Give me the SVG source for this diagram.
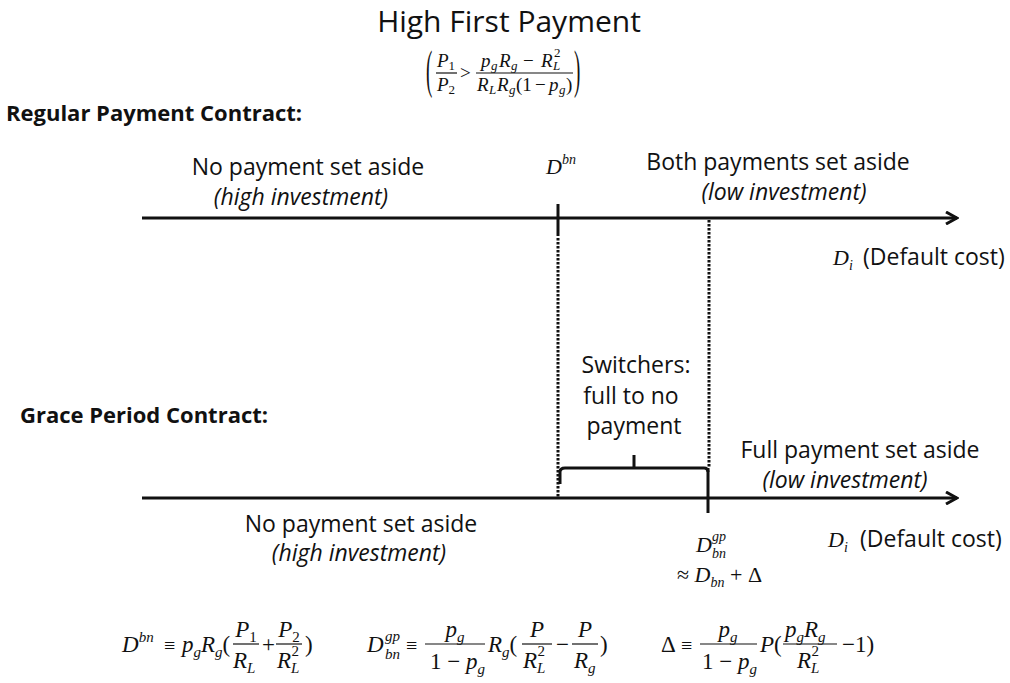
<svg xmlns="http://www.w3.org/2000/svg" width="1010" height="683" viewBox="0 0 1010 683">
  <style>
    .sans { font-family: "Open Sans", "Liberation Sans", sans-serif; fill: #111; }
    .lbl { font-size: 23px; }
    .it { font-style: italic; }
    .bold { font-weight: bold; font-size: 22px; }
    .title { font-size: 30px; }
    .math { font-family: "Liberation Serif", "Times New Roman", serif; fill: #111; }
    .mi { font-style: italic; }
    .s13 { font-size: 13px; }
    .axis { stroke: #111; stroke-width: 3; fill: none; }
    .tick { stroke: #111; stroke-width: 3; fill: none; }
    .dots { stroke: #111; stroke-width: 3; stroke-dasharray: 2.5 1.5; fill: none; }
    .bar { stroke: #111; stroke-width: 1.2; }
  </style>
  <defs>
    <marker id="arrow" viewBox="0 0 14 14" refX="12" refY="7" markerWidth="14" markerHeight="14" markerUnits="userSpaceOnUse" orient="auto">
      <path d="M1,1 L12,7 L1,13" fill="none" stroke="#111" stroke-width="3"/>
    </marker>
  </defs>
  <rect width="1010" height="683" fill="#fff"/>

  <!-- Title and condition -->
  <g id="title">
    <text class="sans title" x="509" y="32" text-anchor="middle">High First Payment</text>
    <g class="math" font-size="19">
      <text x="426" y="78" transform="translate(0,-131.4) scale(1,2.8)">(</text>
      <text x="574" y="78" transform="translate(0,-131.4) scale(1,2.8)">)</text>
      <text class="mi" x="437" y="67">P<tspan dy="3" font-size="13" font-style="normal">1</tspan></text>
      <line class="bar" x1="436" y1="73" x2="457" y2="73"/>
      <text class="mi" x="437" y="91">P<tspan dy="3" font-size="13" font-style="normal">2</tspan></text>
      <text x="460" y="79">&gt;</text>
      <!-- numerator: p_g R_g - R_L^2 -->
      <text class="mi" x="481" y="67">p</text>
      <text class="mi s13" x="491" y="70">g</text>
      <text class="mi" x="499" y="67">R</text>
      <text class="mi s13" x="511" y="70">g</text>
      <text x="523" y="67">−</text>
      <text class="mi" x="541" y="67">R</text>
      <text class="mi s13" x="553" y="70">L</text>
      <text class="s13" x="554" y="57">2</text>
      <line class="bar" x1="476" y1="73" x2="573" y2="73"/>
      <!-- denominator: R_L R_g (1 - p_g) -->
      <text class="mi" x="477" y="91">R</text>
      <text class="mi s13" x="489" y="94">L</text>
      <text class="mi" x="497" y="91">R</text>
      <text class="mi s13" x="509" y="94">g</text>
      <text x="516" y="91">(1</text>
      <text x="535" y="91">−</text>
      <text class="mi" x="549" y="91">p</text>
      <text class="mi s13" x="559" y="94">g</text>
      <text x="566" y="91">)</text>
    </g>
  </g>

  <!-- Section headings -->
  <g id="heading-regular">
    <text class="sans bold" x="6" y="121">Regular Payment Contract:</text>
  </g>
  <g id="heading-grace">
    <text class="sans bold" x="20" y="423">Grace Period Contract:</text>
  </g>

  <!-- Connectors: axes, ticks, guide lines, bracket -->
  <g id="connectors">
    <line class="axis" x1="142" y1="218" x2="957" y2="218" marker-end="url(#arrow)"/>
    <line class="axis" x1="142" y1="498" x2="957" y2="498" marker-end="url(#arrow)"/>
    <line class="tick" x1="558" y1="204" x2="558" y2="236"/>
    <line class="dots" x1="558" y1="238" x2="558" y2="497"/>
    <line class="dots" x1="709" y1="220" x2="709" y2="467"/>
    <line class="tick" x1="708" y1="468" x2="708" y2="513"/>
    <path class="tick" stroke-width="2.5" d="M560,484 L560,472 Q560,468 565,468 L704,468 Q708,468 708,472 M634,468 L634,455"/>
  </g>

  <!-- Regular payment contract labels -->
  <g id="regular-left">
    <text class="sans lbl" x="308" y="175" text-anchor="middle">No payment set aside</text>
    <text class="sans lbl it" x="301" y="205" text-anchor="middle">(high investment)</text>
  </g>
  <g id="regular-threshold">
    <text class="math mi" x="546" y="174" font-size="22">D<tspan dy="-10" font-size="14">bn</tspan></text>
  </g>
  <g id="regular-right">
    <text class="sans lbl" x="778" y="170" text-anchor="middle">Both payments set aside</text>
    <text class="sans lbl it" x="784" y="200" text-anchor="middle">(low investment)</text>
  </g>
  <g id="regular-axis-label">
    <text class="math mi" x="833" y="265" font-size="22">D<tspan dy="5" font-size="14">i</tspan></text>
    <text class="sans lbl" x="863" y="265">(Default cost)</text>
  </g>

  <!-- Switchers -->
  <g id="switchers">
    <text class="sans lbl" x="636" y="373" text-anchor="middle">Switchers:</text>
    <text class="sans lbl" x="631" y="404" text-anchor="middle">full to no</text>
    <text class="sans lbl" x="634" y="434" text-anchor="middle">payment</text>
  </g>

  <!-- Grace period contract labels -->
  <g id="grace-right">
    <text class="sans lbl" x="860" y="458" text-anchor="middle">Full payment set aside</text>
    <text class="sans lbl it" x="845" y="488" text-anchor="middle">(low investment)</text>
  </g>
  <g id="grace-left">
    <text class="sans lbl" x="361" y="532" text-anchor="middle">No payment set aside</text>
    <text class="sans lbl it" x="359" y="561" text-anchor="middle">(high investment)</text>
  </g>
  <g id="grace-threshold">
    <text class="math mi" x="696" y="552" font-size="22">D</text>
    <text class="math mi" x="712" y="541" font-size="14">gp</text>
    <text class="math mi" x="712" y="558" font-size="14">bn</text>
    <text class="math" x="677" y="582" font-size="22">≈ <tspan font-style="italic">D</tspan><tspan dy="5" font-size="14" font-style="italic">bn</tspan><tspan dy="-5"> + Δ</tspan></text>
  </g>
  <g id="grace-axis-label">
    <text class="math mi" x="828" y="547" font-size="22">D<tspan dy="5" font-size="14">i</tspan></text>
    <text class="sans lbl" x="860" y="547">(Default cost)</text>
  </g>

  <!-- Definitions -->
  <g id="def-dbn" class="math" font-size="23">
    <text class="mi" x="122" y="652">D<tspan dy="-10" font-size="15">bn</tspan></text>
    <text x="164" y="652" font-size="20">≡</text>
    <text class="mi" x="182" y="652">p<tspan dy="5" font-size="15">g</tspan><tspan dy="-5">R</tspan><tspan dy="5" font-size="15">g</tspan><tspan dy="-5" font-style="normal">(</tspan></text>
    <text class="mi" x="246" y="637" text-anchor="middle">P<tspan dy="5" font-size="15" font-style="normal">1</tspan></text>
    <line class="bar" x1="233" y1="644" x2="259" y2="644"/>
    <text class="mi" x="233" y="668">R<tspan dy="5" font-size="15">L</tspan></text>
    <text x="262" y="652">+</text>
    <text class="mi" x="289" y="637" text-anchor="middle">P<tspan dy="5" font-size="15" font-style="normal">2</tspan></text>
    <line class="bar" x1="276" y1="644" x2="302" y2="644"/>
    <text class="mi" x="277" y="668">R<tspan dy="5" font-size="15">L</tspan><tspan dx="-8" dy="-17" font-size="15" font-style="normal">2</tspan></text>
    <text x="305" y="652">)</text>
  </g>

  <g id="def-dgp" class="math" font-size="23">
    <text class="mi" x="367" y="652">D</text>
    <text class="mi" x="385" y="641" font-size="15">gp</text>
    <text class="mi" x="385" y="659" font-size="15">bn</text>
    <text x="406" y="652" font-size="20">≡</text>
    <text class="mi" x="455" y="637" text-anchor="middle">p<tspan dy="5" font-size="15">g</tspan></text>
    <line class="bar" x1="425" y1="644" x2="485" y2="644"/>
    <text x="430" y="669">1 − <tspan font-style="italic">p</tspan><tspan dy="5" font-size="15" font-style="italic">g</tspan></text>
    <text class="mi" x="488" y="652">R<tspan dy="5" font-size="15">g</tspan><tspan dy="-5" font-style="normal">(</tspan></text>
    <text class="mi" x="537" y="637" text-anchor="middle">P</text>
    <line class="bar" x1="522" y1="644" x2="552" y2="644"/>
    <text class="mi" x="523" y="668">R<tspan dy="5" font-size="15">L</tspan><tspan dx="-8" dy="-17" font-size="15" font-style="normal">2</tspan></text>
    <text x="556" y="652">−</text>
    <text class="mi" x="585" y="637" text-anchor="middle">P</text>
    <line class="bar" x1="572" y1="644" x2="598" y2="644"/>
    <text class="mi" x="574" y="668">R<tspan dy="5" font-size="15">g</tspan></text>
    <text x="600" y="652">)</text>
  </g>

  <g id="def-delta" class="math" font-size="23">
    <text x="661" y="652">Δ</text>
    <text x="681" y="652" font-size="20">≡</text>
    <text class="mi" x="728" y="637" text-anchor="middle">p<tspan dy="5" font-size="15">g</tspan></text>
    <line class="bar" x1="700" y1="644" x2="757" y2="644"/>
    <text x="702" y="669">1 − <tspan font-style="italic">p</tspan><tspan dy="5" font-size="15" font-style="italic">g</tspan></text>
    <text class="mi" x="760" y="652">P<tspan font-style="normal">(</tspan></text>
    <text class="mi" x="785" y="637">p<tspan dy="5" font-size="15">g</tspan><tspan dy="-5">R</tspan><tspan dy="5" font-size="15">g</tspan></text>
    <line class="bar" x1="783" y1="644" x2="837" y2="644"/>
    <text class="mi" x="797" y="668">R<tspan dy="5" font-size="15">L</tspan><tspan dx="-8" dy="-17" font-size="15" font-style="normal">2</tspan></text>
    <text x="842" y="652">−1)</text>
  </g>
</svg>
